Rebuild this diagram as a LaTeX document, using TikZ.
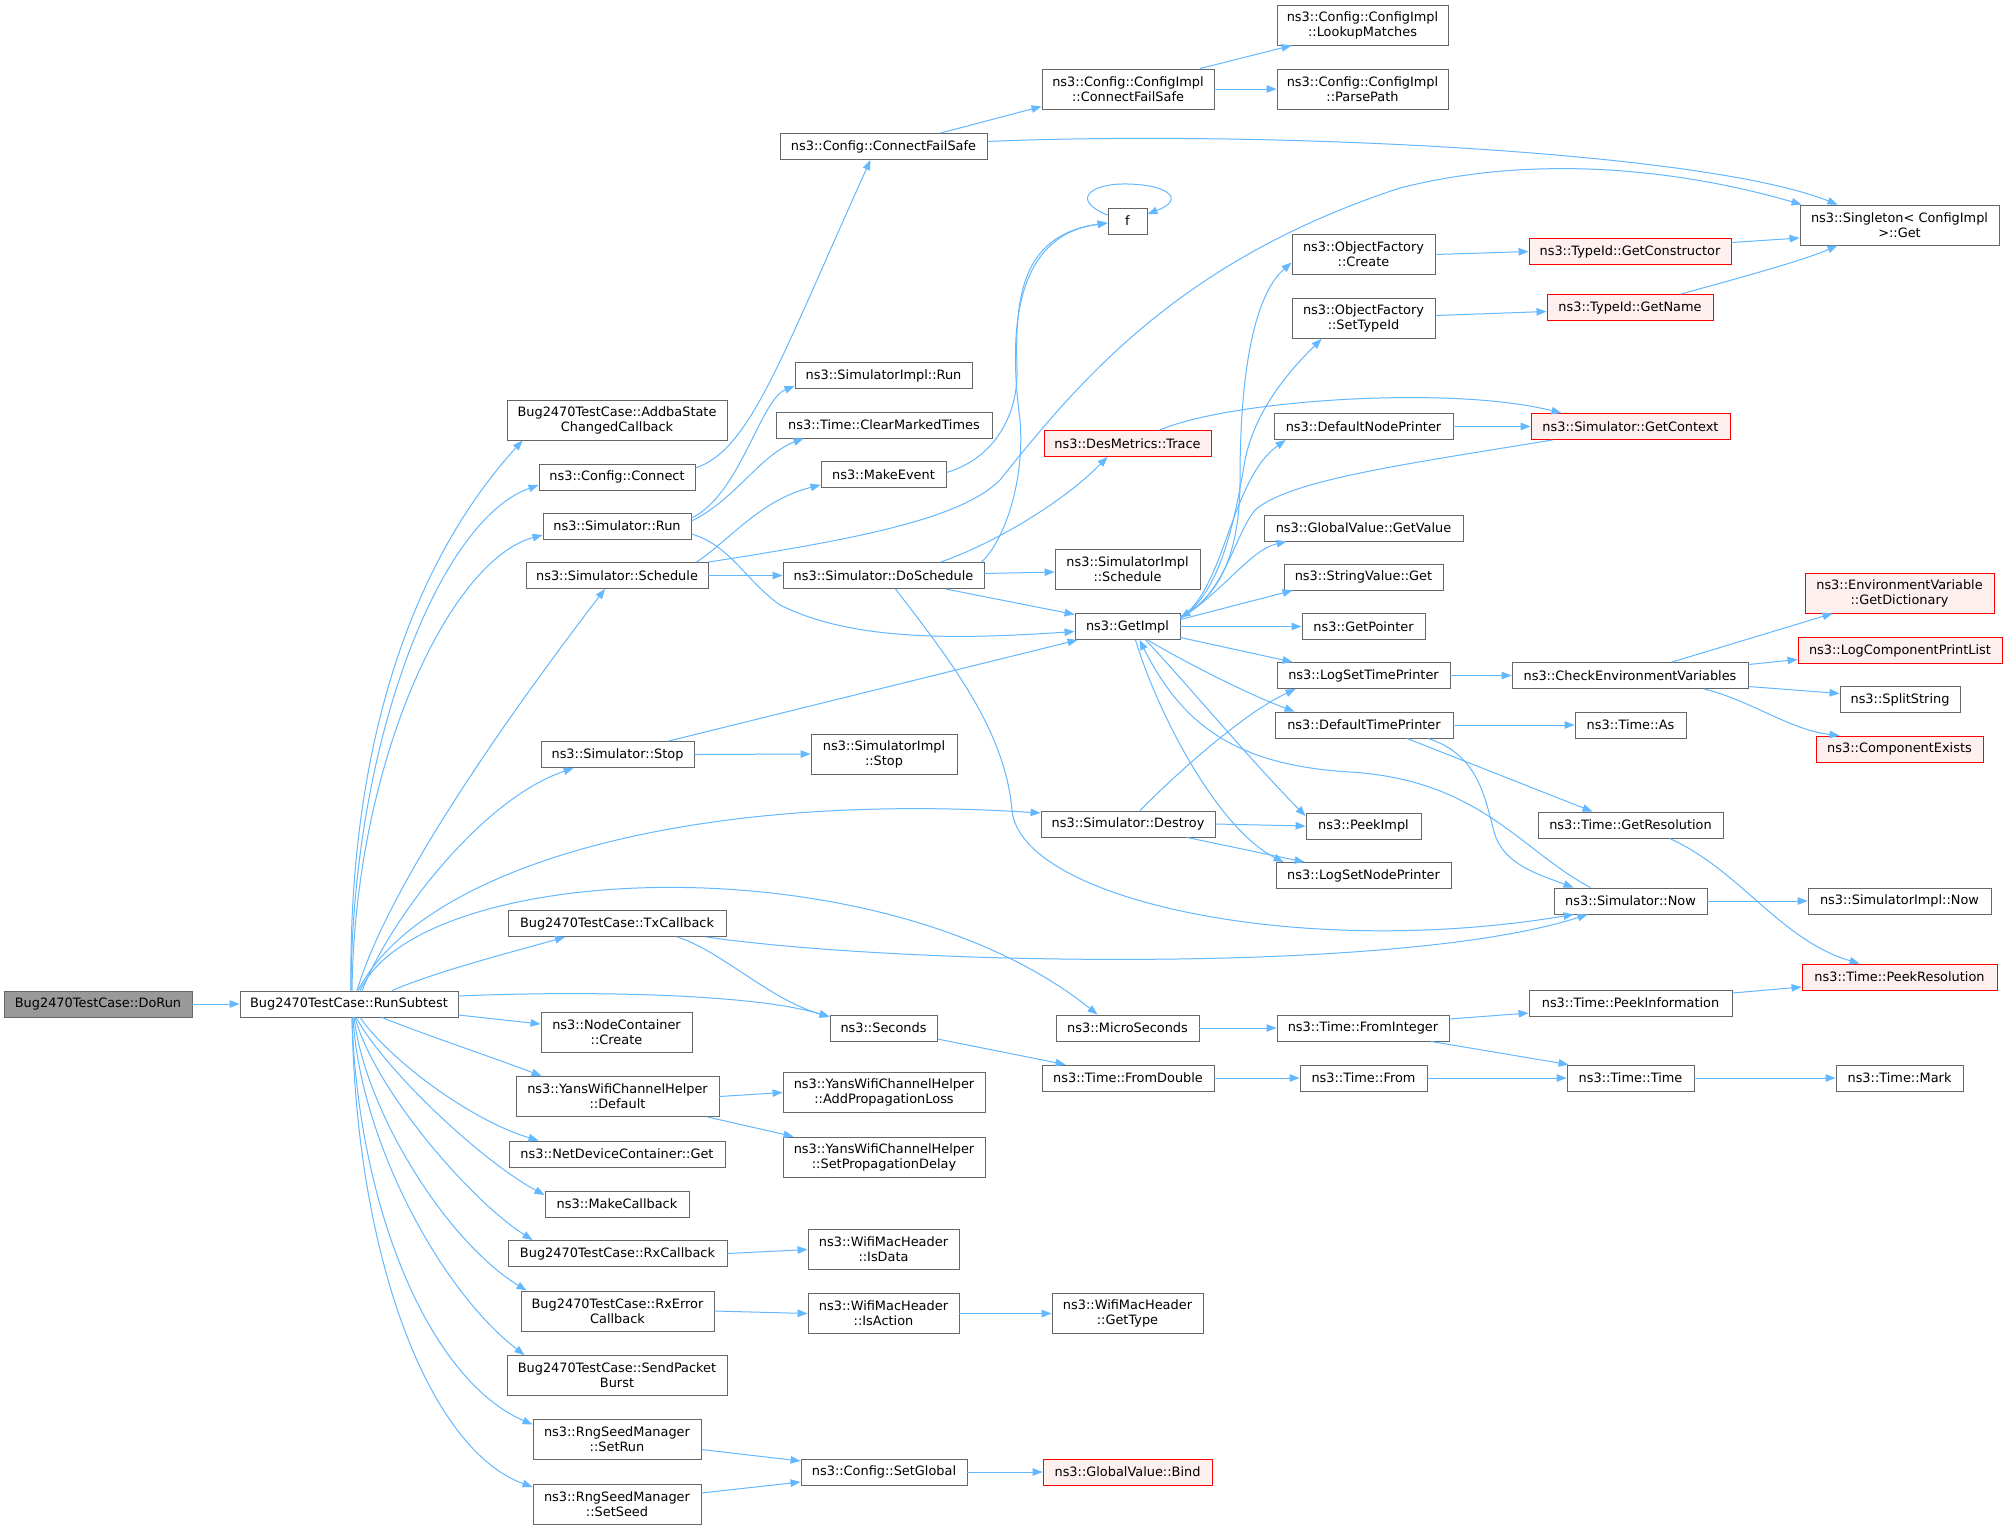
\documentclass[tikz,border=0pt]{standalone}
\usepackage{fontspec}
\setmainfont{DejaVu Sans}
\usetikzlibrary{arrows.meta,calc}
\definecolor{edgecol}{HTML}{63B8FF}
\definecolor{bordercol}{HTML}{666666}
\definecolor{redfill}{HTML}{FFF0F0}
\definecolor{grayfill}{HTML}{999999}
\begin{document}
\begin{tikzpicture}[x=1pt,y=-1pt,
  box/.style={draw=bordercol, fill=white, line width=0.9pt, inner sep=0pt, align=center, font=\fontsize{12.9}{15}\selectfont},
  redbox/.style={box, draw=red, fill=redfill},
  hone/.style={minimum height=26pt},
  htwo/.style={minimum height=40pt},
  conn/.style={draw=edgecol, line width=1pt, -{Triangle[length=10pt,width=7.5pt]}}]
\fill[white] (0,0) rectangle (2008,1527);
\useasboundingbox (0,0) rectangle (2008,1527);

% column 0/1
\node[box,hone,minimum width=188pt,fill=grayfill] (dorun) at (98,1004) {Bug2470TestCase::DoRun};
\node[box,hone,minimum width=218pt] (runsub) at (349,1004) {Bug2470TestCase::RunSubtest};
\node[box,htwo,minimum width=220pt] (addba) at (617,420) {Bug2470TestCase::AddbaState\\ChangedCallback};
\node[box,hone,minimum width=156pt] (connect) at (617,477) {ns3::Config::Connect};
\node[box,hone,minimum width=148pt] (simrun) at (617,526) {ns3::Simulator::Run};
\node[box,hone,minimum width=182pt] (schedule) at (617,575.5) {ns3::Simulator::Schedule};
\node[box,hone,minimum width=153pt] (stop) at (617.5,754.5) {ns3::Simulator::Stop};
\node[box,hone,minimum width=218pt] (txcb) at (617,923.5) {Bug2470TestCase::TxCallback};
\node[box,htwo,minimum width=151pt] (nodecreate) at (616.5,1032) {ns3::NodeContainer\\::Create};
\node[box,htwo,minimum width=203pt] (yansdefault) at (617.5,1096.5) {ns3::YansWifiChannelHelper\\::Default};
\node[box,hone,minimum width=216pt] (netdevget) at (617,1154) {ns3::NetDeviceContainer::Get};
\node[box,hone,minimum width=144pt] (makecb) at (617,1204) {ns3::MakeCallback};
\node[box,hone,minimum width=219pt] (rxcb) at (617.5,1253.5) {Bug2470TestCase::RxCallback};
\node[box,htwo,minimum width=193pt] (rxerr) at (617.5,1311) {Bug2470TestCase::RxError\\Callback};
\node[box,htwo,minimum width=220pt] (sendpkt) at (617,1375.5) {Bug2470TestCase::SendPacket\\Burst};
\node[box,htwo,minimum width=168pt] (setrun) at (617,1439.5) {ns3::RngSeedManager\\::SetRun};
\node[box,htwo,minimum width=168pt] (setseed) at (617,1504) {ns3::RngSeedManager\\::SetSeed};

% column 2
\node[box,hone,minimum width=207pt] (cfs) at (883.5,146.5) {ns3::Config::ConnectFailSafe};
\node[box,hone,minimum width=177pt] (simimplrun) at (883.5,375.5) {ns3::SimulatorImpl::Run};
\node[box,hone,minimum width=216pt] (clearmarked) at (884,425) {ns3::Time::ClearMarkedTimes};
\node[box,hone,minimum width=125pt] (makeevent) at (883.5,474.5) {ns3::MakeEvent};
\node[box,hone,minimum width=201pt] (doschedule) at (883.5,575.5) {ns3::Simulator::DoSchedule};
\node[box,htwo,minimum width=146pt] (simimplstop) at (884,754) {ns3::SimulatorImpl\\::Stop};
\node[box,hone,minimum width=107pt] (seconds) at (883.5,1028) {ns3::Seconds};
\node[box,htwo,minimum width=202pt] (addprop) at (884,1092.5) {ns3::YansWifiChannelHelper\\::AddPropagationLoss};
\node[box,htwo,minimum width=202pt] (setprop) at (884,1157) {ns3::YansWifiChannelHelper\\::SetPropagationDelay};
\node[box,htwo,minimum width=151pt] (isdata) at (883.5,1249.5) {ns3::WifiMacHeader\\::IsData};
\node[box,htwo,minimum width=151pt] (isaction) at (883.5,1313.5) {ns3::WifiMacHeader\\::IsAction};
\node[box,hone,minimum width=166pt] (setglobal) at (884,1472) {ns3::Config::SetGlobal};

% column 3
\node[box,htwo,minimum width=172pt] (implcfs) at (1128,89) {ns3::Config::ConfigImpl\\::ConnectFailSafe};
\node[box,hone,minimum width=39pt] (f) at (1127.5,221) {f};
\node[redbox,hone,minimum width=167pt] (trace) at (1127.5,443.5) {ns3::DesMetrics::Trace};
\node[box,htwo,minimum width=145pt] (implschedule) at (1127.5,569) {ns3::SimulatorImpl\\::Schedule};
\node[box,hone,minimum width=105pt] (getimpl) at (1127.5,626.5) {ns3::GetImpl};
\node[box,hone,minimum width=174pt] (destroy) at (1128,824) {ns3::Simulator::Destroy};
\node[box,hone,minimum width=143pt] (micro) at (1127.5,1028) {ns3::MicroSeconds};
\node[box,hone,minimum width=172pt] (fromdouble) at (1128,1078) {ns3::Time::FromDouble};
\node[box,htwo,minimum width=151pt] (gettype) at (1127.5,1313.5) {ns3::WifiMacHeader\\::GetType};
\node[redbox,hone,minimum width=169pt] (bind) at (1127.5,1472) {ns3::GlobalValue::Bind};

% column 4
\node[box,htwo,minimum width=171pt] (lookup) at (1362.5,25) {ns3::Config::ConfigImpl\\::LookupMatches};
\node[box,htwo,minimum width=171pt] (parsepath) at (1362.5,89) {ns3::Config::ConfigImpl\\::ParsePath};
\node[box,htwo,minimum width=143pt] (ofcreate) at (1363.5,254.5) {ns3::ObjectFactory\\::Create};
\node[box,htwo,minimum width=143pt] (ofsettype) at (1363.5,318.5) {ns3::ObjectFactory\\::SetTypeId};
\node[box,hone,minimum width=179pt] (defnode) at (1363.5,426.5) {ns3::DefaultNodePrinter};
\node[box,hone,minimum width=199pt] (gvgetvalue) at (1363.5,528) {ns3::GlobalValue::GetValue};
\node[box,hone,minimum width=159pt] (svget) at (1363.5,577) {ns3::StringValue::Get};
\node[box,hone,minimum width=123pt] (getpointer) at (1363.5,626.5) {ns3::GetPointer};
\node[box,hone,minimum width=173pt] (logsettime) at (1363.5,675.5) {ns3::LogSetTimePrinter};
\node[box,hone,minimum width=178pt] (deftime) at (1364,725) {ns3::DefaultTimePrinter};
\node[box,hone,minimum width=115pt] (peekimpl) at (1363.5,826) {ns3::PeekImpl};
\node[box,hone,minimum width=175pt] (logsetnode) at (1363.5,875.5) {ns3::LogSetNodePrinter};
\node[box,hone,minimum width=172pt] (frominteger) at (1363,1028) {ns3::Time::FromInteger};
\node[box,hone,minimum width=127pt] (timefrom) at (1363.5,1078) {ns3::Time::From};

% column 5
\node[redbox,hone,minimum width=202pt] (getctor) at (1630,251.5) {ns3::TypeId::GetConstructor};
\node[redbox,hone,minimum width=166pt] (getname) at (1630,307.5) {ns3::TypeId::GetName};
\node[redbox,hone,minimum width=199pt] (getcontext) at (1630.5,426.5) {ns3::Simulator::GetContext};
\node[box,hone,minimum width=236pt] (checkenv) at (1630,675.5) {ns3::CheckEnvironmentVariables};
\node[box,hone,minimum width=111pt] (timeas) at (1630.5,725) {ns3::Time::As};
\node[box,hone,minimum width=185pt] (getres) at (1630.5,825) {ns3::Time::GetResolution};
\node[box,hone,minimum width=153pt] (simnow) at (1630.5,901) {ns3::Simulator::Now};
\node[box,hone,minimum width=203pt] (peekinfo) at (1630.5,1003) {ns3::Time::PeekInformation};
\node[box,hone,minimum width=127pt] (timetime) at (1630.5,1078) {ns3::Time::Time};

% column 6
\node[box,htwo,minimum width=199pt] (singleton) at (1899.5,225) {ns3::Singleton< ConfigImpl\\>::Get};
\node[redbox,htwo,minimum width=189pt] (getdict) at (1899.5,593) {ns3::EnvironmentVariable\\::GetDictionary};
\node[redbox,hone,minimum width=204pt] (logcomp) at (1900,650.5) {ns3::LogComponentPrintList};
\node[box,hone,minimum width=120pt] (splitstr) at (1900,699.5) {ns3::SplitString};
\node[redbox,hone,minimum width=167pt] (compexists) at (1899.5,749) {ns3::ComponentExists};
\node[box,hone,minimum width=183pt] (simimplnow) at (1899.5,901) {ns3::SimulatorImpl::Now};
\node[redbox,hone,minimum width=195pt] (peekres) at (1899.5,977) {ns3::Time::PeekResolution};
\node[box,hone,minimum width=127pt] (timemark) at (1899.5,1078) {ns3::Time::Mark};

% ---------------- edges
\draw[conn] (dorun.east) -- (runsub.west);

\draw[conn] ($(runsub.north)+(2,0)$) .. controls (348,760) and (405,570) .. ($(addba.south west)+(16,0)$);
\draw[conn] ($(runsub.north)+(2,0)$) .. controls (352,740) and (440,520) .. ($(connect.west)+(0,8)$);
\draw[conn] ($(runsub.north)+(3,0)$) .. controls (355,760) and (450,560) .. ($(simrun.west)+(0,9)$);
\draw[conn] ($(runsub.north)+(8,0)$) .. controls (390,880) and (520,700) .. ($(schedule.south)+(-12,0)$);
\draw[conn] ($(runsub.north)+(13,0)$) .. controls (390,920) and (480,800) .. ($(stop.south west)+(33,0)$);
\draw[conn] ($(runsub.north)+(9,0)$) .. controls (420,870) and (680,790) .. ($(destroy.west)+(0,-11)$);
\draw[conn] ($(runsub.north)+(11,0)$) .. controls (420,860) and (880,840) .. ($(micro.north)+(-30,0)$);
\draw[conn] ($(runsub.north)+(43,0)$) .. controls (440,970) and (520,950) .. ($(txcb.south)+(-52,0)$);
\draw[conn] ($(runsub.east)+(0,-8)$) .. controls (600,990) and (760,995) .. ($(seconds.west)+(0,-11)$);
\draw[conn] ($(runsub.east)+(0,11)$) -- ($(nodecreate.west)+(0,-8)$);
\draw[conn] ($(runsub.south)+(33,0)$) .. controls (420,1033) and (500,1060) .. ($(yansdefault.north west)+(26,0)$);
\draw[conn] ($(runsub.south)+(11,0)$) .. controls (390,1060) and (470,1120) .. ($(netdevget.north west)+(30,0)$);
\draw[conn] ($(runsub.south)+(7,0)$) .. controls (385,1070) and (480,1160) .. ($(makecb.west)+(0,-9)$);
\draw[conn] ($(runsub.south)+(6,0)$) .. controls (375,1090) and (470,1200) .. ($(rxcb.north west)+(25,0)$);
\draw[conn] ($(runsub.south)+(5,0)$) .. controls (365,1110) and (445,1240) .. ($(rxerr.north west)+(6,0)$);
\draw[conn] ($(runsub.south)+(4,0)$) .. controls (360,1140) and (440,1290) .. ($(sendpkt.north west)+(18,0)$);
\draw[conn] ($(runsub.south)+(3,0)$) .. controls (358,1210) and (430,1380) .. ($(setrun.west)+(0,-15)$);
\draw[conn] ($(runsub.south)+(3,0)$) .. controls (356,1260) and (430,1450) .. ($(setseed.west)+(0,-17)$);

\draw[conn] ($(connect.east)+(0,-9)$) .. controls (750,450) and (780,360) .. ($(cfs.south)+(-13,0)$);
\draw[conn] ($(cfs.north)+(57,0)$) -- ($(implcfs.south west)+(0,-3)$);
\draw[conn] ($(cfs.east)+(0,-5)$) .. controls (1250,130) and (1700,150) .. ($(singleton.north)+(-62,0)$);
\draw[conn] ($(implcfs.north)+(72,0)$) -- ($(lookup.south west)+(15,0)$);
\draw[conn] (implcfs.east) -- (parsepath.west);
\draw[conn] ($(getctor.east)+(0,-9)$) -- ($(singleton.west)+(0,13)$);
\draw[conn] ($(getname.north)+(51,0)$) .. controls (1720,283) and (1800,262) .. ($(singleton.south)+(-62,0)$);
\draw[conn] (ofcreate.east) -- (getctor.west);
\draw[conn] ($(ofsettype.east)+(0,-3)$) -- ($(getname.west)+(0,4)$);
\draw[conn] (defnode.east) -- (getcontext.west);
\draw[conn] ($(trace.north)+(32,0)$) .. controls (1230,400) and (1450,385) .. ($(getcontext.north west)+(31,0)$);
\draw[conn] ($(getcontext.south west)+(22,0)$) .. controls (1400,465) and (1290,480) .. (1255,510) .. controls (1235,535) and (1225,590) .. ($(getimpl.east)+(0,-9)$);

\draw[conn] ($(getimpl.east)+(0,-10)$) .. controls (1215,600) and (1240,560) .. (1240,480) .. controls (1240,350) and (1260,290) .. ($(ofcreate.west)+(0,8)$);
\draw[conn] ($(getimpl.east)+(0,-9)$) .. controls (1220,595) and (1235,520) .. (1245,460) .. controls (1255,410) and (1290,370) .. ($(ofsettype.south west)+(30,0)$);
\draw[conn] ($(getimpl.east)+(0,-9)$) .. controls (1225,590) and (1230,480) .. ($(defnode.south west)+(12,0)$);
\draw[conn] ($(getimpl.east)+(0,-8)$) .. controls (1225,590) and (1250,550) .. ($(gvgetvalue.south west)+(23,0)$);
\draw[conn] ($(getimpl.east)+(0,-7)$) -- ($(svget.south west)+(9,0)$);
\draw[conn] (getimpl.east) -- (getpointer.west);
\draw[conn] ($(getimpl.east)+(0,11)$) -- ($(logsettime.north west)+(16,0)$);
\draw[conn] ($(getimpl.south)+(20,0)$) .. controls (1190,665) and (1250,695) .. ($(deftime.north west)+(20,0)$);
\draw[conn] ($(getimpl.south)+(18,0)$) .. controls (1175,670) and (1250,760) .. ($(peekimpl.west)+(0,-10)$);
\draw[conn] ($(getimpl.south)+(8,0)$) .. controls (1160,720) and (1220,830) .. ($(logsetnode.north west)+(8,0)$);
\draw[conn] ($(simnow.north)+(-40,0)$) .. controls (1520,850) and (1480,780) .. (1350,772) .. controls (1230,765) and (1180,720) .. ($(getimpl.south)+(12,0)$);

\draw[conn] (deftime.east) -- (timeas.west);
\draw[conn] ($(deftime.south)+(43,0)$) -- ($(getres.north)+(-38,0)$);
\draw[conn] ($(deftime.south)+(64,0)$) .. controls (1480,755) and (1485,800) .. (1495,835) .. controls (1505,865) and (1540,875) .. ($(simnow.north west)+(20,0)$);
\draw[conn] (logsettime.east) -- (checkenv.west);
\draw[conn] ($(checkenv.north)+(42,0)$) -- ($(getdict.south west)+(28,0)$);
\draw[conn] ($(checkenv.east)+(0,-11)$) -- ($(logcomp.west)+(0,9)$);
\draw[conn] ($(checkenv.east)+(0,11)$) -- ($(splitstr.west)+(0,-6)$);
\draw[conn] ($(checkenv.south)+(74,0)$) .. controls (1750,700) and (1790,730) .. ($(compexists.north west)+(24,0)$);
\draw[conn] ($(getres.south)+(39,0)$) .. controls (1740,870) and (1780,940) .. ($(peekres.north west)+(58,0)$);
\draw[conn] (simnow.east) -- (simimplnow.west);
\draw[conn] ($(peekinfo.east)+(0,-10)$) -- ($(peekres.west)+(0,10)$);
\draw[conn] ($(frominteger.east)+(0,-9)$) -- ($(peekinfo.west)+(0,10)$);
\draw[conn] ($(frominteger.south)+(68,0)$) -- ($(timetime.north west)+(2,0)$);
\draw[conn] (micro.east) -- (frominteger.west);
\draw[conn] ($(seconds.east)+(0,11)$) -- ($(fromdouble.north west)+(24,0)$);
\draw[conn] (fromdouble.east) -- (timefrom.west);
\draw[conn] (timefrom.east) -- (timetime.west);
\draw[conn] (timetime.east) -- (timemark.west);

\draw[conn] ($(txcb.south)+(60,0)$) .. controls (720,950) and (770,1000) .. ($(seconds.north west)+(0,2)$);
\draw[conn] ($(txcb.south east)+(-20,0)$) .. controls (900,965) and (1400,975) .. ($(simnow.south west)+(34,0)$);
\draw[conn] ($(doschedule.south)+(12,0)$) .. controls (950,660) and (1005,730) .. (1012,810) .. controls (1020,900) and (1300,960) .. ($(simnow.south west)+(20,0)$);
\draw[conn] ($(doschedule.east)+(0,-2)$) -- ($(implschedule.west)+(0,3)$);
\draw[conn] ($(doschedule.south)+(62,0)$) -- ($(getimpl.west)+(0,-12)$);
\draw[conn] ($(doschedule.north)+(57,0)$) .. controls (990,545) and (1060,505) .. ($(trace.south)+(-20,0)$);
\draw[conn] ($(doschedule.north)+(98,0)$) .. controls (1005,540) and (1025,480) .. (1020,420) .. controls (1008,330) and (1015,235) .. ($(f.west)+(0,2)$);
\draw[conn] ($(makeevent.east)+(0,-2)$) .. controls (990,460) and (1018,420) .. (1017,370) .. controls (1015,300) and (1020,235) .. ($(f.west)+(0,2)$);
\draw[conn] ($(f.west)+(0,-6)$) .. controls (1070,200) and (1090,183) .. (1128,184) .. controls (1170,185) and (1185,200) .. ($(f.east)+(0,-7)$);
\draw[conn] ($(schedule.north east)+(-12,0)$) .. controls (730,540) and (760,500) .. ($(makeevent.south west)+(0,-3)$);
\draw[conn] (schedule.east) -- (doschedule.west);
\draw[conn] (schedule.north east) .. controls (850,540) and (960,520) .. (1000,480) .. controls (1080,380) and (1180,260) .. (1400,188) .. controls (1550,150) and (1700,175) .. ($(singleton.north west)+(2,0)$);

\draw[conn] ($(simrun.east)+(0,-8)$) .. controls (740,495) and (760,400) .. ($(simimplrun.south west)+(0,-3)$);
\draw[conn] ($(simrun.east)+(0,-5)$) .. controls (735,500) and (760,455) .. ($(clearmarked.south west)+(28,0)$);
\draw[conn] ($(simrun.east)+(0,8)$) .. controls (730,545) and (745,580) .. (780,605) .. controls (850,640) and (950,640) .. ($(getimpl.west)+(0,5)$);
\draw[conn] (stop.east) -- (simimplstop.west);
\draw[conn] ($(stop.north east)+(-26,0)$) -- ($(getimpl.south west)+(3,0)$);
\draw[conn] ($(destroy.north)+(12,0)$) .. controls (1170,780) and (1240,715) .. ($(logsettime.south west)+(19,0)$);
\draw[conn] (destroy.east) -- (peekimpl.west);
\draw[conn] ($(destroy.south)+(59,0)$) -- ($(logsetnode.north west)+(29,0)$);
\draw[conn] (yansdefault.east) -- (addprop.west);
\draw[conn] ($(yansdefault.south east)+(-12,0)$) -- ($(setprop.north west)+(11,0)$);
\draw[conn] (rxcb.east) -- (isdata.west);
\draw[conn] (rxerr.east) -- (isaction.west);
\draw[conn] (isaction.east) -- (gettype.west);
\draw[conn] ($(setrun.east)+(0,10)$) -- ($(setglobal.west)+(0,-11)$);
\draw[conn] ($(setseed.east)+(0,-11)$) -- ($(setglobal.west)+(0,10)$);
\draw[conn] (setglobal.east) -- (bind.west);
\end{tikzpicture}
\end{document}
